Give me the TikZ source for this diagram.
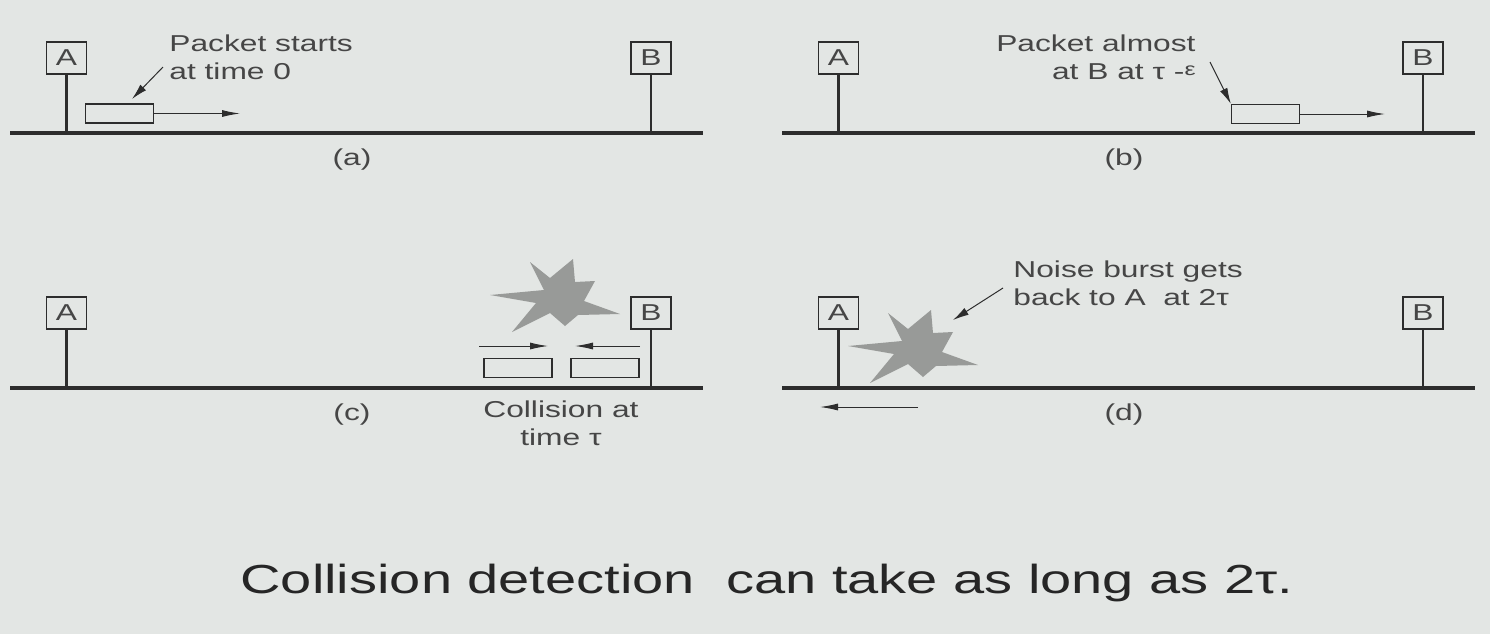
\documentclass[tikz,border=0pt]{standalone}
\usepackage{fontspec}
\setmainfont[FakeStretch=1.38]{Liberation Sans}
\usetikzlibrary{arrows.meta,positioning,calc}
\definecolor{slide}{RGB}{227,230,228}
\definecolor{ink}{RGB}{45,45,45}
\definecolor{script}{RGB}{70,70,70}
\definecolor{burstgray}{RGB}{152,154,152}
\tikzset{
  every picture/.style={font=\fontsize{11.5}{14.3}\selectfont,text=script},
  station/.style={draw=ink,line width=0.8pt,minimum width=20pt,minimum height=16pt,inner sep=0pt},
  bus/.style={draw=ink,line width=1.7pt},
  stem/.style={draw=ink,line width=1.4pt},
  packet/.style={draw=ink,line width=0.6pt,minimum width=34pt,minimum height=9.5pt,inner sep=0pt},
  flow/.style={draw=ink,line width=0.5pt,-{Latex[length=9pt,width=3.5pt]}},
  pointer/.style={draw=ink,line width=0.5pt,-{Latex[length=8pt,width=4pt]}},
  caption/.style={inner sep=0pt},
  note/.style={inner sep=0pt},
  burst/.pic={
    \fill[burstgray] (-70,-2) -- (-16,-7) -- (-30,-35) -- (-10,-19) -- (13,-38) -- (15,-15)
      -- (35,-16) -- (24,4) -- (60,17) -- (18,18) -- (5,29) -- (-10,16)
      -- (-48,35) -- (-24,6) -- cycle;
  },
}
\begin{document}
\begin{tikzpicture}[x=0.5pt,y=-0.5pt]
  \fill[slide] (0,0) rectangle (1490,634);
  \useasboundingbox (0,0) rectangle (1490,634);
  % four snapshots of the same cable
  \foreach \p/\dx/\dy in {a/0/0,b/772/0,c/0/255,d/772/255}{
    \coordinate (\p-l) at (10+\dx,133+\dy);
    \coordinate (\p-r) at (703+\dx,133+\dy);
    \draw[bus] (\p-l) -- (\p-r);
    \node[station] (\p-A) at (66.5+\dx,58+\dy) {A};
    \node[station] (\p-B) at (651+\dx,58+\dy) {B};
    \draw[stem] (\p-A.south) -- (\p-A.south |- \p-l);
    \draw[stem] (\p-B.south) -- (\p-B.south |- \p-l);
    \node[caption] (\p-cap) at (352+\dx,160+\dy) {(\p)};
  }
  % (a)
  \node[packet] (pa) at (119.5,113.5) {};
  \coordinate (pa-head) at (240,113.5);
  \draw[flow] (pa.east) -- (pa-head);
  \node[note,anchor=north west,align=left] (sa) at (169,34) {Packet starts\\at time 0};
  \coordinate (sa-from) at (163,67);
  \coordinate (sa-to) at (132,99);
  \draw[pointer] (sa-from) -- (sa-to);
  % (b)
  \node[packet] (pb) at (1265.5,114) {};
  \coordinate (pb-head) at (1385,114);
  \draw[flow] (pb.east) -- (pb-head);
  \node[note,anchor=north east,align=right] (sb) at (1196,34)
    {Packet almost\\at B at τ -\raisebox{0.35ex}{\fontsize{9}{9}\selectfont ε}};
  \coordinate (sb-from) at (1210,62);
  \draw[pointer] (sb-from) -- (pb.north west);
  % (c)
  \node[packet] (pc1) at (518,368) {};
  \node[packet] (pc2) at (605,368) {};
  \coordinate (fc1-tail) at (479,346);
  \coordinate (fc1-head) at (548,346);
  \coordinate (fc2-tail) at (640,346);
  \coordinate (fc2-head) at (575,346);
  \draw[flow] (fc1-tail) -- (fc1-head);
  \draw[flow] (fc2-tail) -- (fc2-head);
  \pic at (560,297) {burst};
  \node[note,anchor=north,align=center] (sc) at (561,400) {Collision at\\time τ};
  % (d)
  \pic at (918,348) {burst};
  \coordinate (fd-tail) at (918,407);
  \coordinate (fd-head) at (820,407);
  \draw[flow] (fd-tail) -- (fd-head);
  \node[note,anchor=north west,align=left] (sd) at (1013,260) {Noise burst gets\\back to A\ \ at 2τ};
  \coordinate (sd-from) at (1003,288);
  \coordinate (sd-to) at (953,320);
  \draw[pointer] (sd-from) -- (sd-to);
  % bottom line
  \node[inner sep=0pt,text=black!85] (title) at (767,583)
    {\fontsize{20.3}{24}\selectfont Collision detection\ \ can take as long as 2τ.};
\end{tikzpicture}
\end{document}
